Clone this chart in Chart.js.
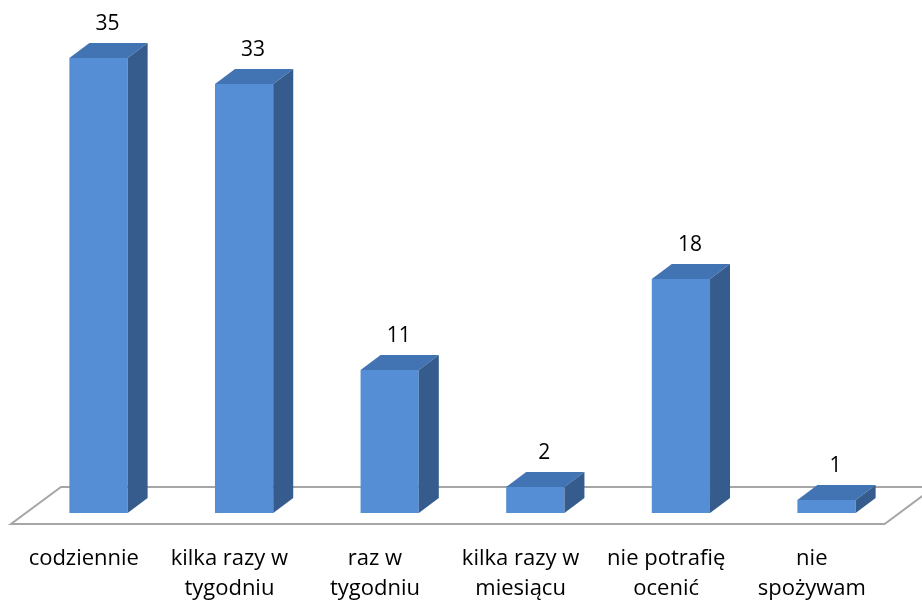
<!DOCTYPE html>
<html>
<head>
<meta charset="utf-8">
<script src="https://cdn.jsdelivr.net/npm/chart.js@4.4.1/dist/chart.umd.min.js"></script>
<style>
  html, body { margin: 0; padding: 0; background: #fff; }
  #wrap { width: 922px; height: 606px; }
</style>
</head>
<body>
<div id="wrap"><canvas id="myChart"></canvas></div>
<script>
// categories and answer counts
var categories = [
  ['codziennie'],
  ['kilka razy w', 'tygodniu'],
  ['raz w', 'tygodniu'],
  ['kilka razy w', 'miesiącu'],
  ['nie potrafię', 'ocenić'],
  ['nie', 'spożywam']
];
var counts = [35, 33, 11, 2, 18, 1];

var FONT = "'Open Sans', 'Noto Sans', sans-serif";

// pseudo 3D: depth of a bar and of the floor, in pixels
var BAR_DX = 20, BAR_DY = -15;
var FLOOR_DX = 50, FLOOR_DY = -37;
var FLOOR_FRONT = 11;   // floor front edge below the bar bases
var SHIFT = 14.7;       // bars stand this far back from the floor front

var bars3d = {
  id: 'bars3d',
  beforeDatasetsDraw: function (chart) {
    var ctx = chart.ctx;
    var area = chart.chartArea;
    var y0 = chart.scales.y.getPixelForValue(0) + FLOOR_FRONT;
    var x0 = area.left - SHIFT;
    var x1 = area.right - SHIFT;
    ctx.save();
    ctx.strokeStyle = '#a6a6a6';
    ctx.lineWidth = 2;
    ctx.beginPath();
    ctx.moveTo(x0, y0);
    ctx.lineTo(x1, y0);
    ctx.lineTo(x1 + FLOOR_DX, y0 + FLOOR_DY);
    ctx.lineTo(x0 + FLOOR_DX, y0 + FLOOR_DY);
    ctx.closePath();
    ctx.stroke();
    ctx.restore();
  },
  afterDatasetsDraw: function (chart) {
    var ctx = chart.ctx;
    var meta = chart.getDatasetMeta(0);
    ctx.save();
    meta.data.forEach(function (bar, i) {
      var l = bar.x - bar.width / 2, r = bar.x + bar.width / 2;
      var t = bar.y, b = bar.base;
      // top face
      ctx.fillStyle = '#4273b3';
      ctx.beginPath();
      ctx.moveTo(l, t);
      ctx.lineTo(l + BAR_DX, t + BAR_DY);
      ctx.lineTo(r + BAR_DX, t + BAR_DY);
      ctx.lineTo(r, t);
      ctx.closePath();
      ctx.fill();
      // side face
      ctx.fillStyle = '#355c8d';
      ctx.beginPath();
      ctx.moveTo(r, t);
      ctx.lineTo(r + BAR_DX, t + BAR_DY);
      ctx.lineTo(r + BAR_DX, b + BAR_DY);
      ctx.lineTo(r, b);
      ctx.closePath();
      ctx.fill();
      // value label
      ctx.fillStyle = '#000';
      ctx.font = '21px ' + FONT;
      ctx.textAlign = 'center';
      ctx.textBaseline = 'middle';
      ctx.fillText(String(counts[i]), bar.x + 9, t + BAR_DY - 19);
    });
    ctx.restore();
  }
};

new Chart(document.getElementById('myChart'), {
  type: 'bar',
  data: {
    labels: categories,
    datasets: [{
      data: counts,
      backgroundColor: '#558ed5',
      borderWidth: 0,
      categoryPercentage: 1.0,
      barPercentage: 0.4
    }]
  },
  options: {
    responsive: true,
    maintainAspectRatio: false,
    animation: false,
    events: [],
    layout: { padding: { left: 25.7, right: 22.7, top: 6, bottom: 0 } },
    plugins: {
      legend: { display: false },
      tooltip: { enabled: false }
    },
    scales: {
      x: {
        grid: { display: false, drawTicks: false },
        border: { display: false },
        ticks: {
          color: '#000',
          font: { family: FONT, size: 22, lineHeight: 1.36 },
          maxRotation: 0,
          autoSkip: false,
          labelOffset: -SHIFT,
          padding: 31
        },
        afterFit: function (scale) { scale.height = 93; }
      },
      y: {
        display: false,
        min: 0,
        max: 39
      }
    }
  },
  plugins: [bars3d]
});
</script>
</body>
</html>
